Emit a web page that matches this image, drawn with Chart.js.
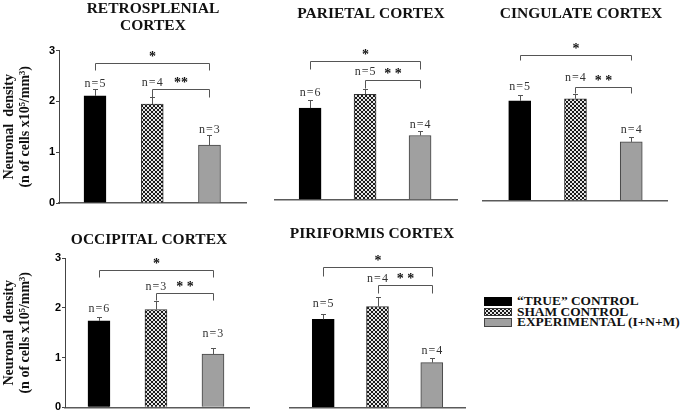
<!DOCTYPE html>
<html>
<head>
<meta charset="utf-8">
<script src="https://cdn.jsdelivr.net/npm/chart.js@4.4.1/dist/chart.umd.min.js"></script>
<style>
body{margin:0;width:683px;height:410px;overflow:hidden;background:#fff;position:relative;}
#legend{position:absolute;left:484px;top:296px;font:bold 13.4px "Liberation Serif",serif;color:#111;}
.row{height:10.5px;display:flex;align-items:center;white-space:nowrap;}
.sw{width:28px;height:8.5px;border:1px solid #333;box-sizing:border-box;margin-right:5px;}
</style>
</head>
<body>
<div id="legend"></div>
<script>
// ================= DATA =================
const groups=["\u201CTRUE\u201D CONTROL","SHAM CONTROL","EXPERIMENTAL (I+N+M)"];
const yTicks=[0,1,2,3];
const yTitle=["Neuronal  density","(n of cells x10\u2075/mm\u00B3)"];

const retrosplenialMean=[2.11,1.95,1.14];
const retrosplenialSem=[0.13,0.14,0.20];
const retrosplenialN=[5,4,3];

const parietalMean=[1.80,2.07,1.26];
const parietalSem=[0.16,0.10,0.09];
const parietalN=[6,5,4];

const cingulateMean=[1.96,2.00,1.15];
const cingulateSem=[0.11,0.09,0.10];
const cingulateN=[5,4,4];

const occipitalMean=[1.74,1.97,1.07];
const occipitalSem=[0.07,0.18,0.12];
const occipitalN=[6,3,3];

const piriformisMean=[1.77,2.03,0.90];
const piriformisSem=[0.11,0.20,0.09];
const piriformisN=[5,4,4];

// ================= PANEL LAYOUT =================
// cell = canvas box, area = plot box (left,right,top,bottom) on the page
const panels=[
{title:["RETROSPLENIAL","CORTEX"],titleAt:[153,9],mean:retrosplenialMean,sem:retrosplenialSem,n:retrosplenialN,
 stars:["*","**"],cell:[0,0,250,215],area:[59,246,50.7,203],xr:[0.371,3.638],yAxis:true,
 nAt:[2.34,2.36,1.45],brk:[2.76,2.25],tick:[7,8]},
{title:["PARIETAL CORTEX"],titleAt:[371,14],mean:parietalMean,sem:parietalSem,n:parietalN,
 stars:["*","* *"],cell:[250,0,215,215],area:[262.5,457,47.2,199.5],xr:[0.362,3.672],yAxis:false,
 nAt:[2.10,2.51,1.47],brk:[2.73,2.35],tick:[8,8]},
{title:["CINGULATE CORTEX"],titleAt:[581,14],mean:cingulateMean,sem:cingulateSem,n:cingulateN,
 stars:["*","* *"],cell:[465,0,218,215],area:[474,667,48,200.3],xr:[0.342,3.641],yAxis:false,
 nAt:[2.23,2.41,1.38],brk:[2.86,2.23],tick:[5,6]},
{title:["OCCIPITAL CORTEX"],titleAt:[149,240],mean:occipitalMean,sem:occipitalSem,n:occipitalN,
 stars:["*","* *"],cell:[0,210,250,215],area:[65,249,258.3,407.3],xr:[0.404,3.632],yAxis:true,
 nAt:[1.98,2.43,1.48],brk:[2.76,2.30],tick:[7,7]},
{title:["PIRIFORMIS CORTEX"],titleAt:[372,234],mean:piriformisMean,sem:piriformisSem,n:piriformisN,
 stars:["*","* *"],cell:[250,210,220,215],area:[270,465,258.3,407.3],xr:[0.388,3.612],yAxis:false,
 nAt:[2.08,2.58,1.13],brk:[2.82,2.46],tick:[9,8]}
];

// ================= HATCH PATTERN =================
function hatchCanvas(){
let c=document.createElement("canvas");
c.width=4;c.height=4;
let g=c.getContext("2d");
g.fillStyle="#e6e6e6";g.fillRect(0,0,4,4);
g.fillStyle="#1a1a1a";
for(let i=0;i<4;i++){g.fillRect(i,i,1,1);g.fillRect(3-i,i,1,1);}
return c;
}
const hatchC=hatchCanvas();
const hatch=hatchC.getContext("2d").createPattern(hatchC,"repeat");
const fills=["#000000",hatch,"#a0a0a0"];
const edges=["#000000","#333333","#444444"];

// ================= ANNOTATIONS =================
function notes(p){
return {id:"notes",afterDatasetsDraw(chart){
let ctx=chart.ctx,xs=chart.scales.x,ys=chart.scales.y;
let cx=i=>xs.getPixelForValue(i+1);
ctx.save();
ctx.strokeStyle="#555";ctx.lineWidth=1;
p.mean.forEach((m,i)=>{
let x=Math.round(cx(i))+0.5,y0=ys.getPixelForValue(m),y1=Math.round(ys.getPixelForValue(m+p.sem[i]))+0.5;
ctx.beginPath();ctx.moveTo(x,y0);ctx.lineTo(x,y1);ctx.moveTo(x-2.5,y1);ctx.lineTo(x+2.5,y1);ctx.stroke();
});
ctx.textAlign="center";ctx.textBaseline="middle";
ctx.fillStyle="#333";ctx.font='12px "Liberation Serif"';
ctx.letterSpacing="1px";
p.n.forEach((n,i)=>ctx.fillText("n="+n,cx(i)+0.5,ys.getPixelForValue(p.nAt[i])));
ctx.letterSpacing="0px";
[[0,2],[1,2]].forEach(([a,b],k)=>{
let y=Math.round(ys.getPixelForValue(p.brk[k]))+0.5,xa=Math.round(cx(a))+0.5,xb=Math.round(cx(b))+0.5,t=p.tick[k];
ctx.strokeStyle="#555";
ctx.beginPath();ctx.moveTo(xa,y+t);ctx.lineTo(xa,y);ctx.lineTo(xb,y);ctx.lineTo(xb,y+t);ctx.stroke();
ctx.fillStyle="#111";ctx.font='bold 14px "Liberation Serif"';
ctx.fillText(p.stars[k],(xa+xb)/2,y-6);
});
ctx.fillStyle="#111";ctx.font='bold 15.5px "Liberation Serif"';
p.title.forEach((t,i)=>ctx.fillText(t,p.titleAt[0]-p.cell[0],p.titleAt[1]-p.cell[1]+i*17.3));
ctx.restore();
}};
}

// ================= CHARTS =================
panels.forEach(p=>{
let [cx0,cy0,cw,ch]=p.cell;
let [L,R,T,B]=p.area;
let cv=document.createElement("canvas");
cv.width=cw;cv.height=ch;
cv.style.cssText=`position:absolute;left:${cx0}px;top:${cy0}px;width:${cw}px;height:${ch}px`;
document.body.appendChild(cv);
new Chart(cv,{
type:"bar",
data:{datasets:[{
label:p.title.join(" "),
data:p.mean.map((v,i)=>({x:i+1,y:v})),
backgroundColor:fills,
borderColor:edges,
borderWidth:1,
barThickness:22
}]},
options:{
responsive:false,
animation:false,
layout:{padding:{left:p.yAxis?0:L-cx0,right:cx0+cw-R,top:T-cy0,bottom:cy0+ch-B}},
plugins:{legend:{display:false},tooltip:{enabled:false}},
scales:{
x:{type:"linear",min:p.xr[0],max:p.xr[1],bounds:"data",offset:false,
ticks:{display:false},grid:{display:false,drawTicks:false},
border:{display:true,color:"#5a5a5a",width:1.5}},
y:{display:p.yAxis,min:0,max:3,bounds:"data",
afterBuildTicks:s=>{s.ticks=yTicks.map(v=>({value:v}));},
ticks:{padding:1,color:"#000",font:{family:'"Liberation Sans"',weight:"bold",size:11}},
grid:{drawOnChartArea:false,tickLength:3,color:"#444"},
border:{color:"#444",width:1},
title:{display:true,text:yTitle,color:"#111",padding:{top:2,bottom:0},
font:{family:'"Liberation Serif"',weight:"bold",size:14,lineHeight:1.1}},
afterFit:s=>{s.width=L-cx0;}}
}
},
plugins:[notes(p)]
});
});

// ================= LEGEND =================
let legend=document.getElementById("legend");
groups.forEach((g,i)=>{
let sw=i===1?`background:url(${hatchC.toDataURL()})`:`background:${fills[i]}`;
legend.innerHTML+=`<div class="row"><span class="sw" style="${sw};border-color:${edges[i]}"></span>${g}</div>`;
});
</script>
</body>
</html>
